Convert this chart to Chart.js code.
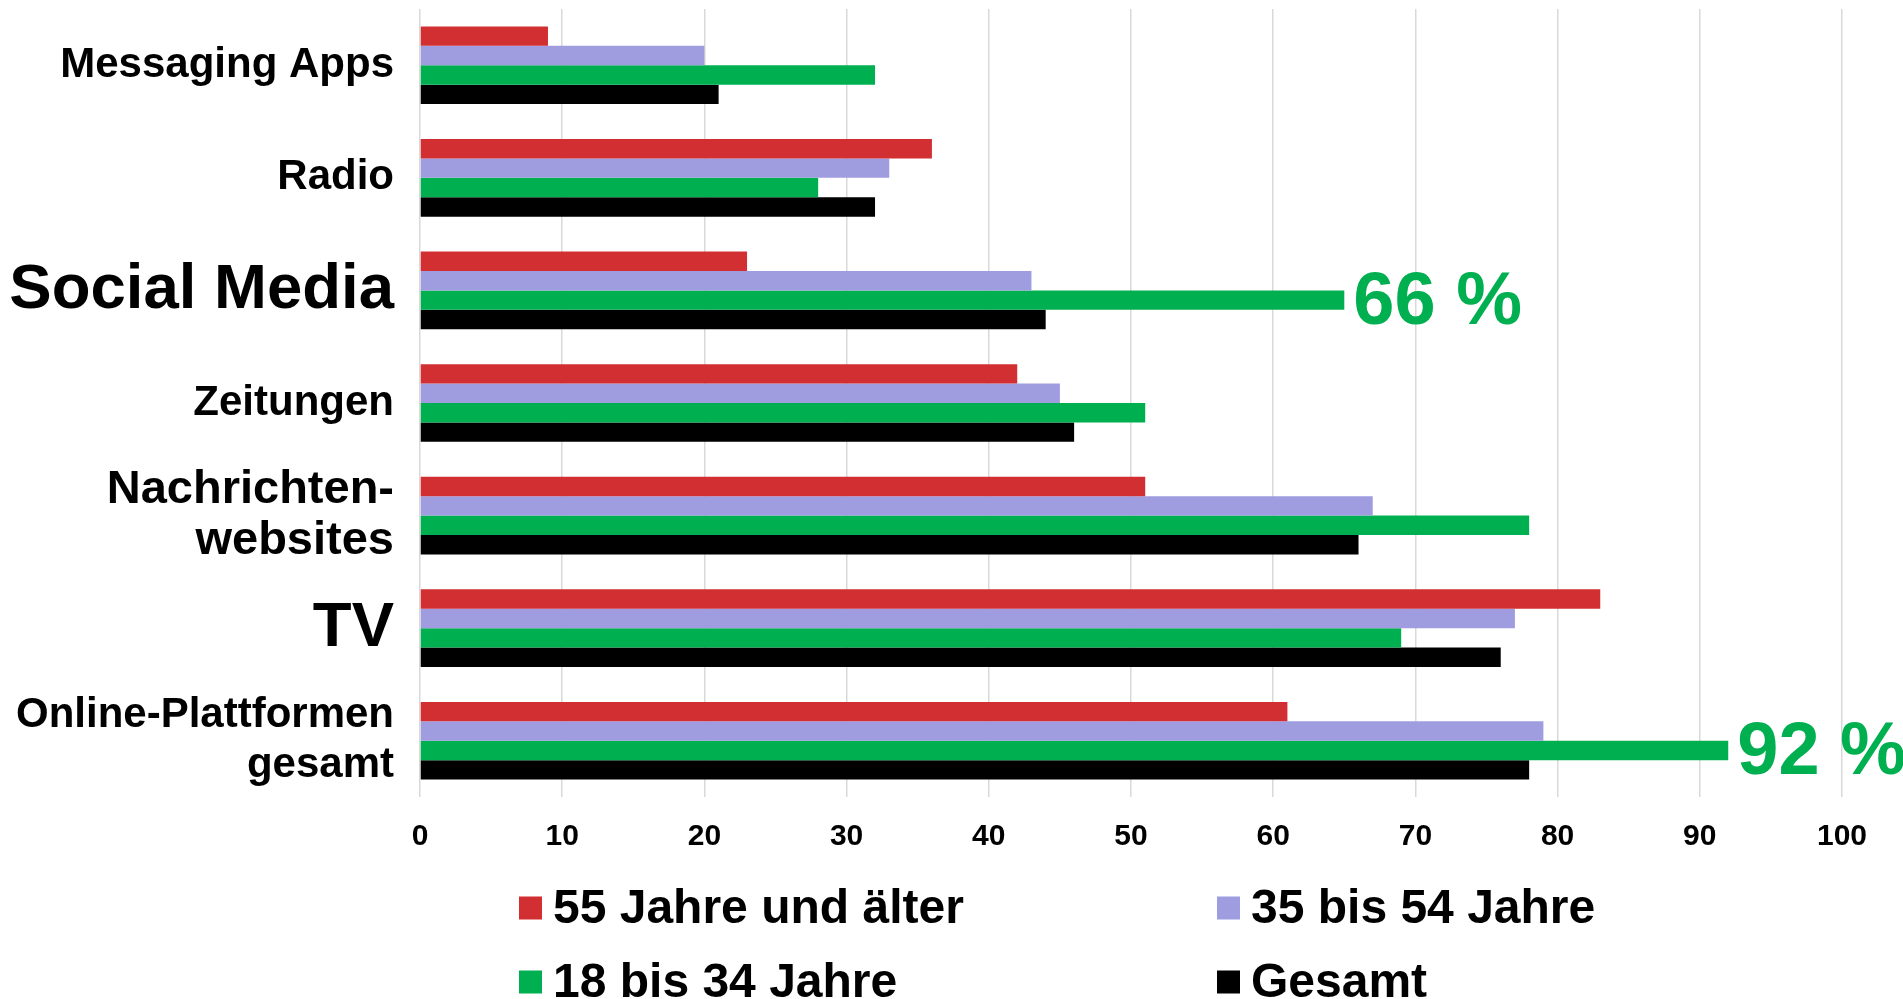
<!DOCTYPE html>
<html lang="de">
<head>
<meta charset="utf-8">
<title>Nachrichtenquellen nach Alter</title>
<script src="https://cdn.jsdelivr.net/npm/chart.js@4.4.1/dist/chart.umd.min.js"></script>
<style>
  html, body { margin: 0; padding: 0; background: #fff; }
  #wrap { position: relative; width: 1903px; height: 999px; }
</style>
</head>
<body>
<div id="wrap"><canvas id="chart"></canvas></div>
<script>
// Daten
const categories = [
    'Messaging Apps',
    'Radio',
    'Social Media',
    'Zeitungen',
    ['Nachrichten-', 'websites'],
    'TV',
    ['Online-Plattformen', 'gesamt']
];

const seriesNames = ['55 Jahre und älter', '35 bis 54 Jahre', '18 bis 34 Jahre', 'Gesamt'];
const seriesColors = ['#d12f31', '#9f9ddf', '#00b050', '#000000'];

const age55plus = [9, 36, 23, 42, 51, 83, 61];
const age35to54 = [20, 33, 43, 45, 67, 77, 79];
const age18to34 = [32, 28, 65, 51, 78, 69, 92];
const total     = [21, 32, 44, 46, 66, 76, 78];

const xTicks = [0, 10, 20, 30, 40, 50, 60, 70, 80, 90, 100];

// Hervorgehobene Werte (Kategorie-Index, Datensatz-Index, Text)
const callouts = [
    { cat: 2, series: 2, text: '66 %' },
    { cat: 6, series: 2, text: '92 %' }
];

// Schriftgroessen der Kategorien (Standard 42)
function labelFont(index) {
    if (index === 2 || index === 5) return { size: 63.5, weight: 'bold', lineHeight: 1.2 };
    if (index === 4) return { size: 47, weight: 'bold', lineHeight: 1.1 };
    return { size: 42, weight: 'bold', lineHeight: 1.2 };
}

Chart.defaults.font.family = '"Liberation Sans", Arial, sans-serif';
Chart.defaults.font.weight = 'bold';
Chart.defaults.color = '#000';

// Texte neben den Balken
const calloutPlugin = {
    id: 'callouts',
    afterDatasetsDraw(chart) {
        const ctx = chart.ctx;
        ctx.save();
        ctx.font = 'bold 74px "Liberation Sans", Arial, sans-serif';
        ctx.fillStyle = seriesColors[2];
        ctx.textAlign = 'left';
        ctx.textBaseline = 'middle';
        callouts.forEach(c => {
            const bar = chart.getDatasetMeta(c.series).data[c.cat];
            ctx.fillText(c.text, bar.x + 9, bar.y + 3);
        });
        ctx.restore();
    }
};

// Legende in zwei Spalten
const legendPlugin = {
    id: 'gridLegend',
    afterDraw(chart) {
        const ctx = chart.ctx;
        const colX = [519, 1217];
        const rowY = [908, 982];
        const box = 23;
        ctx.save();
        ctx.font = 'bold 48px "Liberation Sans", Arial, sans-serif';
        ctx.textBaseline = 'middle';
        ctx.textAlign = 'left';
        chart.data.datasets.forEach((ds, i) => {
            const x = colX[i % 2];
            const y = rowY[Math.floor(i / 2)];
            ctx.fillStyle = ds.backgroundColor;
            ctx.fillRect(x, y - box / 2, box, box);
            ctx.fillStyle = '#000';
            ctx.fillText(ds.label, x + box + 11, y + 2);
        });
        ctx.restore();
    }
};

const seriesData = [age55plus, age35to54, age18to34, total];

new Chart(document.getElementById('chart'), {
    type: 'bar',
    data: {
        labels: categories,
        datasets: seriesNames.map((name, i) => ({
            label: name,
            data: seriesData[i],
            backgroundColor: seriesColors[i],
            borderWidth: 0,
            categoryPercentage: 0.69,
            barPercentage: 1.0
        }))
    },
    options: {
        indexAxis: 'y',
        responsive: true,
        maintainAspectRatio: false,
        animation: false,
        layout: {
            padding: { top: 9, right: 61, bottom: 122, left: 10 }
        },
        plugins: {
            legend: { display: false },
            tooltip: { enabled: false }
        },
        scales: {
            x: {
                min: 0,
                max: 100,
                afterBuildTicks: (scale) => {
                    scale.ticks = xTicks.map(v => ({ value: v }));
                },
                afterFit: (scale) => {
                    scale.paddingLeft = 0;
                    scale.paddingRight = 0;
                },
                grid: {
                    color: '#d9d9d9',
                    lineWidth: 1.5,
                    drawTicks: false
                },
                border: { display: false },
                ticks: {
                    padding: 22,
                    color: '#000',
                    font: { size: 30, weight: 'bold' }
                }
            },
            y: {
                grid: { display: false, drawTicks: false },
                border: { display: false },
                afterFit: (scale) => {
                    scale.width = 410;
                    scale.paddingTop = 0;
                    scale.paddingBottom = 0;
                },
                ticks: {
                    padding: 26,
                    color: '#000',
                    autoSkip: false,
                    font: (ctx) => labelFont(ctx.index)
                }
            }
        }
    },
    plugins: [calloutPlugin, legendPlugin]
});
</script>
</body>
</html>
